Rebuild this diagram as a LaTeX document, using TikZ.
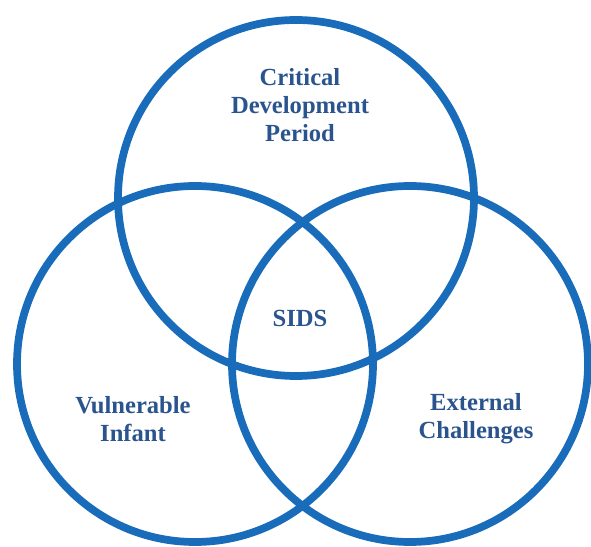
\documentclass[tikz,border=0pt]{standalone}
\usepackage{fontspec}
\setmainfont{Liberation Serif}
\usepackage{tikz}
\usetikzlibrary{positioning}
\usepackage{xcolor}
\definecolor{ringblue}{RGB}{24,108,186}
\definecolor{textblue}{RGB}{42,84,142}

\begin{document}
\begin{tikzpicture}[x=0.02cm,y=0.02cm,
  ring/.style={draw=ringblue,line width=4.4pt},
  lbl/.style={text=textblue,align=center,font=\fontsize{14}{16}\selectfont\bfseries}]
\useasboundingbox (0,0) rectangle (591,547);
\draw [ring](296,349) circle (178);
\draw [ring](195,183) circle (178);
\draw [ring](410,183) circle (178);
\node [lbl] (period) at (300,442) {Critical\\Development\\Period};
\node [lbl] (sids) at (300,229) {SIDS};
\node [lbl] (infant) at (133,128) {Vulnerable\\Infant};
\node [lbl] (external) at (476,128) {External\\Challenges};
\end{tikzpicture}
\end{document}
